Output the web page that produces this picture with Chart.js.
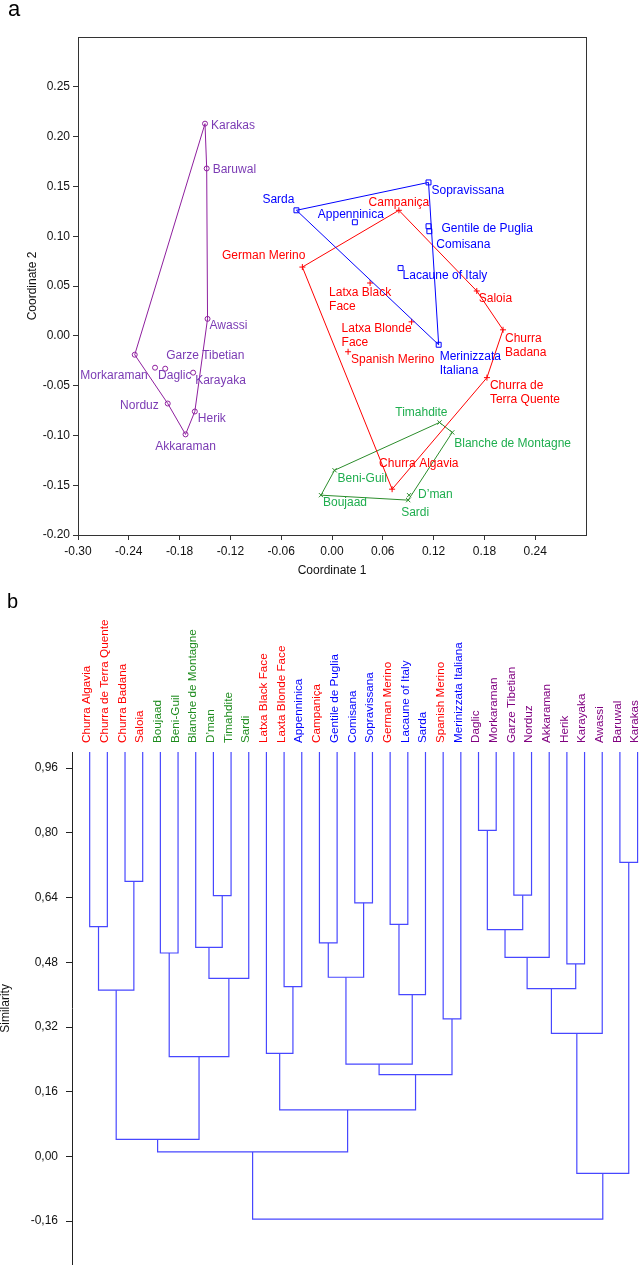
<!DOCTYPE html>
<html>
<head>
<meta charset="utf-8">
<script src="https://cdn.jsdelivr.net/npm/chart.js@4.4.1/dist/chart.umd.min.js"></script>
<style>
  html, body { margin: 0; padding: 0; background: #fff; }
  #wrap { position: relative; width: 642px; height: 1280px; }
  #pcoa { position: absolute; left: 0; top: 0; width: 642px; height: 590px; }
  #dendro { position: absolute; left: 0; top: 590px; width: 642px; height: 690px; }
</style>
</head>
<body>
<div id="wrap">
  <canvas id="pcoa" width="642" height="590"></canvas>
  <canvas id="dendro" width="642" height="690"></canvas>
</div>
<script>
const FONT = "'Liberation Sans', Arial, sans-serif";

// ---- panel a : PCoA coordinates ----
const purpleNames = ['Karakas', 'Baruwal', 'Awassi', 'Garze Tibetian', 'Daglic', 'Karayaka', 'Morkaraman', 'Norduz', 'Herik', 'Akkaraman'];
const purpleX = [-0.150, -0.148, -0.147, -0.197, -0.209, -0.164, -0.233, -0.194, -0.162, -0.173];
const purpleY = [0.213, 0.168, 0.017, -0.033, -0.032, -0.037, -0.019, -0.068, -0.076, -0.099];
const purpleHull = [0, 1, 2, 8, 9, 7, 6, 0];

const blueNames = ['Sarda', 'Appenninica', 'Sopravissana', 'Gentile de Puglia', 'Comisana', 'Lacaune of Italy', 'Merinizzata\nItaliana'];
const blueX = [-0.042, 0.027, 0.114, 0.114, 0.115, 0.081, 0.126];
const blueY = [0.126, 0.114, 0.154, 0.110, 0.105, 0.068, -0.009];
const blueHull = [0, 2, 6, 0];

const redNames = ['Campaniça', 'German Merino', 'Latxa Black\nFace', 'Latxa Blonde\nFace', 'Spanish Merino', 'Saloia', 'Churra\nBadana', 'Churra de\nTerra Quente', 'Churra Algavia'];
const redX = [0.079, -0.035, 0.045, 0.094, 0.019, 0.171, 0.202, 0.183, 0.071];
const redY = [0.126, 0.069, 0.053, 0.014, -0.016, 0.045, 0.006, -0.042, -0.154];
const redHull = [1, 0, 5, 6, 7, 8, 1];

const greenNames = ['Timahdite', 'Blanche de Montagne', 'Beni-Guil', 'Boujaad', 'D’man', 'Sardi'];
const greenX = [0.127, 0.142, 0.003, -0.013, 0.091, 0.090];
const greenY = [-0.087, -0.097, -0.135, -0.160, -0.160, -0.165];
const greenHull = [0, 1, 5, 3, 2, 0];

const coordXTicks = [-0.30, -0.24, -0.18, -0.12, -0.06, 0.00, 0.06, 0.12, 0.18, 0.24];
const coordYTicks = [-0.20, -0.15, -0.10, -0.05, 0.00, 0.05, 0.10, 0.15, 0.20, 0.25];

// label placement (pixel offsets from the point, alignment)
const purpleLabelPos = [[6, 2, 'left'], [6, 1, 'left'], [2, 7, 'left'], [1, -13, 'left'], [3, 8, 'left'],
  [2, 8, 'left'], [13, 21, 'right'], [-9, 2, 'right'], [3, 7, 'left'], [0, 12, 'center']];
const blueLabelPos = [[-2, -11, 'right'], [-4, -8, 'center'], [3, 8, 'left'], [13, 2, 'left'], [7, 13, 'left'],
  [2, 8, 'left'], [1, 12, 'left']];
const redLabelPos = [[0, -8, 'center'], [3, -11, 'right'], [-41, 10, 'left'], [-70, 7, 'left'], [3, 8, 'left'],
  [2, 8, 'left'], [2, 9, 'left'], [3, 8, 'left'], [-13, -25, 'left']];
const greenLabelPos = [[8, -10, 'right'], [2, 11, 'left'], [3, 8, 'left'], [2, 8, 'left'], [9, 0, 'left'], [7, 13, 'center']];

const groups = [
  { names: purpleNames, x: purpleX, y: purpleY, hull: purpleHull, pos: purpleLabelPos, marker: 'circle', radius: 2.5, line: '#8e1f9e', text: '#7b3bb4' },
  { names: blueNames, x: blueX, y: blueY, hull: blueHull, pos: blueLabelPos, marker: 'rect', radius: 3.5, line: '#0000ff', text: '#0000ff' },
  { names: redNames, x: redX, y: redY, hull: redHull, pos: redLabelPos, marker: 'cross', radius: 3, line: '#ff0000', text: '#ff0000' },
  { names: greenNames, x: greenX, y: greenY, hull: greenHull, pos: greenLabelPos, marker: 'crossRot', radius: 3, line: '#2b8c2b', text: '#1fae4f' }
];

const pcoaDatasets = [];
groups.forEach(g => {
  pcoaDatasets.push({
    data: g.hull.map(i => ({ x: g.x[i], y: g.y[i] })),
    showLine: true, borderColor: g.line, borderWidth: 1, pointRadius: 0, tension: 0
  });
  pcoaDatasets.push({
    data: g.x.map((v, i) => ({ x: v, y: g.y[i] })),
    showLine: false, pointStyle: g.marker, pointRadius: g.radius, borderColor: g.line,
    backgroundColor: 'rgba(0,0,0,0)', pointBorderWidth: 1
  });
});

const pcoaLabels = {
  id: 'pcoaLabels',
  afterDatasetsDraw(chart) {
    const { ctx, chartArea: a, scales: { x, y } } = chart;
    ctx.save();
    ctx.strokeStyle = '#333';
    ctx.lineWidth = 1;
    ctx.strokeRect(Math.round(a.left) + 0.5, Math.round(a.top) + 0.5, Math.round(a.right - a.left), Math.round(a.bottom - a.top));
    ctx.font = '12px ' + FONT;
    ctx.textBaseline = 'middle';
    groups.forEach(g => {
      ctx.fillStyle = g.text;
      g.names.forEach((n, i) => {
        const [dx, dy, al] = g.pos[i];
        ctx.textAlign = al;
        const px = x.getPixelForValue(g.x[i]) + dx;
        const py = y.getPixelForValue(g.y[i]) + dy;
        n.split('\n').forEach((line, k) => ctx.fillText(line, px, py + k * 14));
      });
    });
    ctx.fillStyle = '#000';
    ctx.textAlign = 'left';
    ctx.textBaseline = 'alphabetic';
    ctx.font = '22px ' + FONT;
    ctx.fillText('a', 8, 16);
    ctx.restore();
  }
};

new Chart(document.getElementById('pcoa'), {
  type: 'scatter',
  data: { datasets: pcoaDatasets },
  options: {
    responsive: false,
    animation: false,
    layout: { padding: { left: 0, top: 37, right: 56, bottom: 0 } },
    plugins: { legend: { display: false }, tooltip: { enabled: false } },
    scales: {
      x: {
        min: -0.30, max: 0.30,
        afterBuildTicks: s => { s.ticks = coordXTicks.map(v => ({ value: v })); },
        afterFit: s => { s.height = 55; },
        grid: { drawOnChartArea: false, color: '#333', tickLength: 5 },
        border: { color: '#333' },
        ticks: { color: '#111', padding: 4, maxRotation: 0, font: { size: 12, family: FONT },
          callback: v => Math.abs(v) < 1e-9 ? '0.00' : v.toFixed(2) },
        title: { display: true, text: 'Coordinate 1', color: '#111', font: { size: 12, family: FONT }, padding: { top: 0, bottom: 12 } }
      },
      y: {
        min: -0.20, max: 0.30,
        afterBuildTicks: s => { s.ticks = coordYTicks.map(v => ({ value: v })); },
        afterFit: s => { s.width = 78; },
        grid: { drawOnChartArea: false, color: '#333', tickLength: 5 },
        border: { color: '#333' },
        ticks: { color: '#111', padding: 3, font: { size: 12, family: FONT },
          callback: v => Math.abs(v) < 1e-9 ? '0.00' : v.toFixed(2) },
        title: { display: true, text: 'Coordinate 2', color: '#111', font: { size: 12, family: FONT }, padding: { top: 25, bottom: 0 } }
      }
    }
  },
  plugins: [pcoaLabels]
});

// ---- panel b : UPGMA dendrogram ----
const leafNames = ['Churra Algavia', 'Churra de Terra Quente', 'Churra Badana', 'Saloia', 'Boujaad', 'Beni-Guil',
  'Blanche de Montagne', 'D’man', 'Timahdite', 'Sardi', 'Latxa Black Face', 'Laxta Blonde Face', 'Appenninica',
  'Campaniça', 'Gentile de Puglia', 'Comisana', 'Sopravissana', 'German Merino', 'Lacaune of Italy', 'Sarda',
  'Spanish Merino', 'Merinizzata Italiana', 'Daglic', 'Morkaraman', 'Garze Tibetian', 'Norduz', 'Akkaraman',
  'Herik', 'Karayaka', 'Awassi', 'Baruwal', 'Karakas'];
const leafGroup = ['r', 'r', 'r', 'r', 'g', 'g', 'g', 'g', 'g', 'g', 'r', 'r', 'b', 'r', 'b', 'b', 'b', 'r', 'b', 'b',
  'r', 'b', 'p', 'p', 'p', 'p', 'p', 'p', 'p', 'p', 'p', 'p'];
const groupColor = { r: '#ff0000', g: '#1e8c1e', b: '#0000ff', p: '#800080' };

// merges: node ids 0..31 are leaves, merge k creates node 32+k
const mergeA = [22, 30, 2, 24, 7, 15, 17, 0, 32, 13, 6, 4, 40, 27, 41, 42, 11, 44, 39, 38, 20, 49, 10, 43, 46, 56, 54, 50, 53, 59, 61];
const mergeB = [23, 31, 3, 25, 8, 16, 18, 1, 35, 14, 36, 5, 26, 28, 37, 9, 12, 45, 34, 19, 21, 29, 48, 47, 51, 52, 57, 55, 33, 58, 60];
const mergeHeight = [0.806, 0.727, 0.680, 0.646, 0.645, 0.627, 0.574, 0.568, 0.561, 0.528, 0.517, 0.503, 0.492, 0.476,
  0.443, 0.440, 0.420, 0.415, 0.411, 0.400, 0.340, 0.304, 0.255, 0.247, 0.228, 0.202, 0.115, 0.042, -0.042, 0.011, -0.155];
const leafTop = 1.0;
const simTicks = [-0.16, 0.00, 0.16, 0.32, 0.48, 0.64, 0.80, 0.96];

const nodeX = leafNames.map((_, i) => i);
const nodeH = leafNames.map(() => leafTop);
const dendroDatasets = [];
mergeA.forEach((a, k) => {
  const b = mergeB[k], h = mergeHeight[k];
  dendroDatasets.push({
    data: [{ x: nodeX[a], y: nodeH[a] }, { x: nodeX[a], y: h }, { x: nodeX[b], y: h }, { x: nodeX[b], y: nodeH[b] }],
    showLine: true, borderColor: '#4747ff', borderWidth: 1.2, pointRadius: 0, tension: 0
  });
  nodeX.push((nodeX[a] + nodeX[b]) / 2);
  nodeH.push(h);
});

const leafLabels = {
  id: 'leafLabels',
  afterDatasetsDraw(chart) {
    const { ctx, chartArea: a, scales: { x } } = chart;
    ctx.save();
    ctx.font = '11.7px ' + FONT;
    ctx.textBaseline = 'middle';
    ctx.textAlign = 'left';
    leafNames.forEach((n, i) => {
      ctx.save();
      ctx.translate(x.getPixelForValue(i) - 2.5, a.top - 9);
      ctx.rotate(-Math.PI / 2);
      ctx.fillStyle = groupColor[leafGroup[i]];
      ctx.fillText(n, 0, 0);
      ctx.restore();
    });
    ctx.fillStyle = '#000';
    ctx.textBaseline = 'alphabetic';
    ctx.font = '20px ' + FONT;
    ctx.fillText('b', 7, 18);
    ctx.restore();
  }
};

new Chart(document.getElementById('dendro'), {
  type: 'scatter',
  data: { datasets: dendroDatasets },
  options: {
    responsive: false,
    animation: false,
    layout: { padding: { left: 0, top: 162, right: 0, bottom: 2 } },
    plugins: { legend: { display: false }, tooltip: { enabled: false } },
    scales: {
      x: { display: false, min: -1, max: 31.25 },
      y: {
        min: -0.268, max: 1.0,
        afterBuildTicks: s => { s.ticks = simTicks.map(v => ({ value: v })); },
        afterFit: s => { s.width = 72; },
        grid: { drawOnChartArea: false, color: '#222', tickLength: 6 },
        border: { color: '#222' },
        ticks: { color: '#111', padding: 8, font: { size: 12, family: FONT },
          callback: v => v.toFixed(2).replace('.', ',') },
        title: { display: true, text: 'Similarity', color: '#111', font: { size: 12, family: FONT, lineHeight: 1 }, padding: { top: 0, bottom: 0 } }
      }
    }
  },
  plugins: [leafLabels]
});
</script>
</body>
</html>
